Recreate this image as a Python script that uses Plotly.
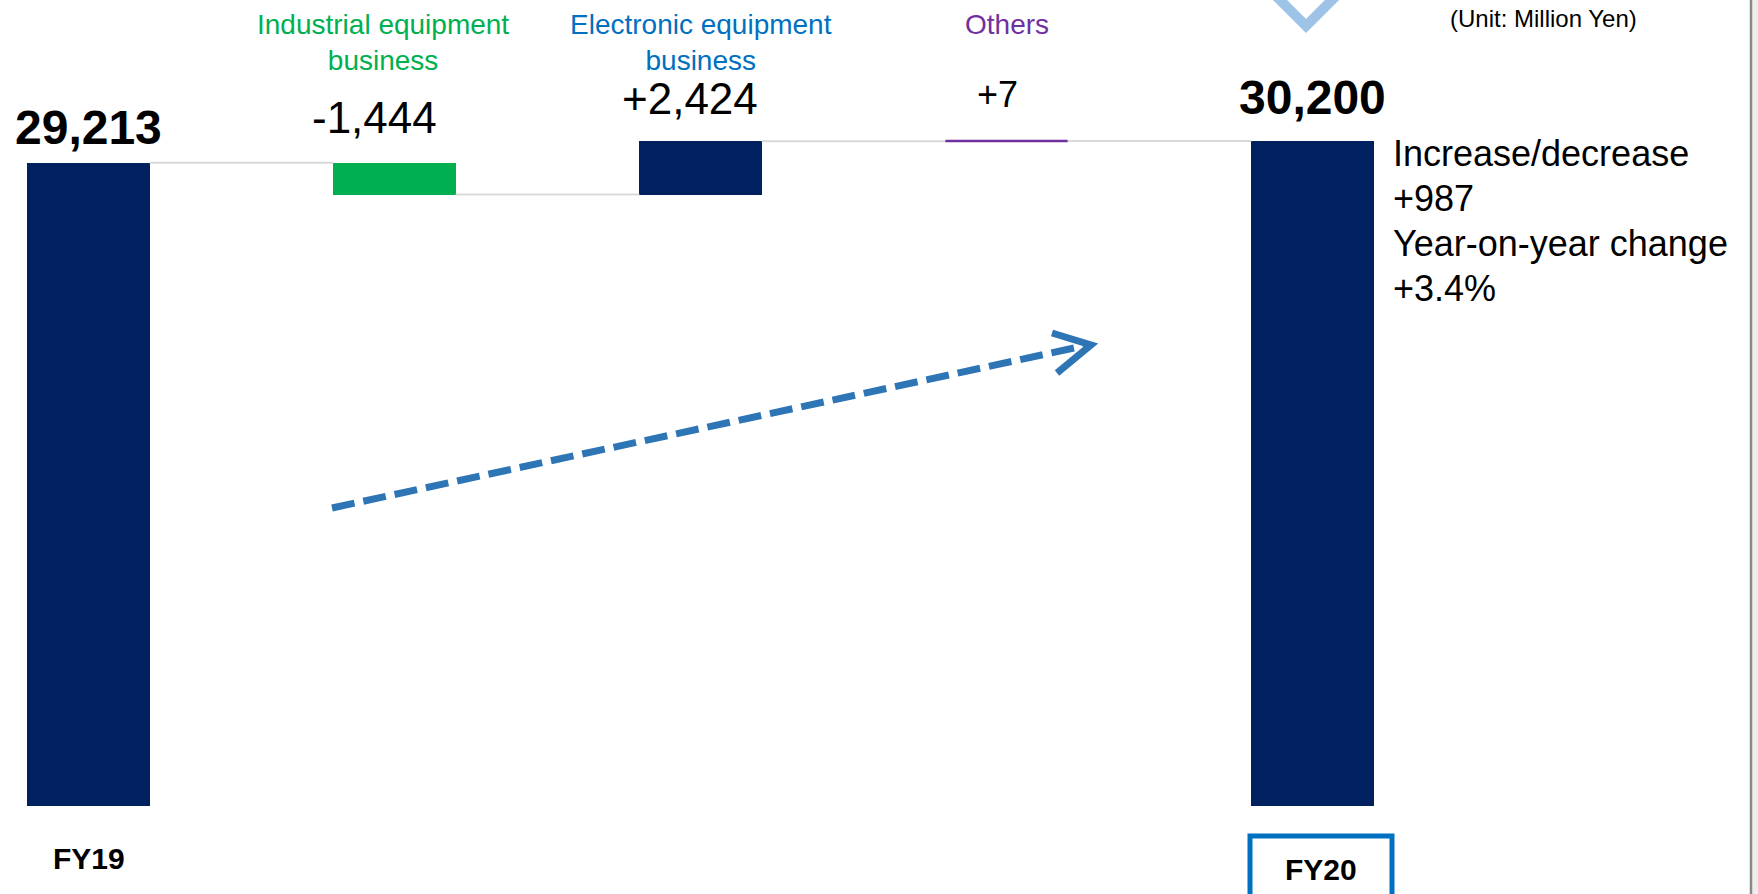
import plotly.graph_objects as go

# ---- data -------------------------------------------------------------
categories = ["FY19", "Industrial equipment<br>business",
              "Electronic equipment<br>business", "Others", "FY20"]
start_value = 29213          # FY19 total
segment_changes = [-1444, 2424, 7]   # industrial, electronic, others
end_value = 30200            # FY20 total
unit_note = "(Unit: Million Yen)"

# ---- styling ----------------------------------------------------------
W, H = 1758, 894
NAVY = "#002060"
GREEN = "#00B050"
BLUE = "#0070C0"
PURPLE = "#7030A0"
CONNECTOR = "#D9D9D9"
FONT = "Liberation Sans, Arial, sans-serif"

bar_colors = [NAVY, GREEN, NAVY, PURPLE, NAVY]
label_colors = ["black", GREEN, BLUE, PURPLE, "black"]
BAR_W = 0.4


def px_x(p):
    return p / W


def px_y(p):
    return 1 - p / H


# ---- waterfall geometry from the data ----------------------------------
xs = list(range(len(categories)))
bases, heights, levels = [0], [start_value], [start_value]
level = start_value
for d in segment_changes:
    bases.append(level)
    heights.append(d)
    level += d
    levels.append(level)
bases.append(0)
heights.append(end_value)
tops = [max(b, b + h) for b, h in zip(bases, heights)]

fig = go.Figure()

fig.add_trace(go.Bar(
    x=xs, y=heights, base=bases, width=BAR_W,
    marker=dict(color=bar_colors, line=dict(width=0)),
    hoverinfo="skip", showlegend=False,
))

# thin "Others" bar drawn as a coloured line at its top
i_oth = 3
fig.add_trace(go.Scatter(
    x=[i_oth - BAR_W / 2, i_oth + BAR_W / 2], y=[levels[i_oth]] * 2,
    mode="lines", line=dict(color=PURPLE, width=2.5),
    hoverinfo="skip", showlegend=False,
))

# connectors between consecutive bars
cx, cy = [], []
for i in range(len(categories) - 1):
    cx += [i + BAR_W / 2, i + 1 - BAR_W / 2, None]
    cy += [levels[i], levels[i], None]
fig.add_trace(go.Scatter(
    x=cx, y=cy, mode="lines", line=dict(color=CONNECTOR, width=2),
    hoverinfo="skip", showlegend=False, connectgaps=False,
))

annotations = []

# value labels above each bar
value_texts = [f"<b>{start_value:,}</b>"] + [f"{d:+,}" for d in segment_changes] \
    + [f"<b>{end_value:,}</b>"]
value_sizes = [48, 44, 44, 36, 48]
value_shift_y = [35, 45, 43, 47, 44]
value_shift_x = [0, -20, -11, -9, 0]
for i in xs:
    annotations.append(dict(
        x=i, y=tops[i], xref="x", yref="y", text=value_texts[i],
        showarrow=False, xanchor="center", yanchor="middle",
        xshift=value_shift_x[i], yshift=value_shift_y[i],
        font=dict(family=FONT, size=value_sizes[i], color="black"),
    ))

# segment names at the top
name_shift_x = [0, -12, 0, 0, 0]
for i in (1, 2, 3):
    annotations.append(dict(
        x=i, y=px_y(7), xref="x", yref="paper", text=categories[i],
        showarrow=False, xanchor="center", yanchor="top", align="center",
        xshift=name_shift_x[i],
        font=dict(family=FONT, size=28, color=label_colors[i]),
    ))

# year labels beneath the total bars
annotations.append(dict(
    x=0, y=px_y(858), xref="x", yref="paper", text=f"<b>{categories[0]}</b>",
    showarrow=False, xanchor="center", yanchor="middle",
    font=dict(family=FONT, size=30, color="black"),
))
annotations.append(dict(
    x=px_x(1321), y=px_y(869), xref="paper", yref="paper",
    text=f"<b>{categories[4]}</b>",
    showarrow=False, xanchor="center", yanchor="middle",
    font=dict(family=FONT, size=30, color="black"),
))

# summary of the change
diff = end_value - start_value
pct = (end_value / start_value - 1) * 100
summary = ["Increase/decrease", f"{diff:+,}", "Year-on-year change", f"{pct:+.1f}%"]
summary_y = [154, 198, 243, 288]
for txt, yy in zip(summary, summary_y):
    annotations.append(dict(
        x=px_x(1391), y=px_y(yy), xref="paper", yref="paper", text=txt,
        showarrow=False, xanchor="left", yanchor="middle",
        font=dict(family=FONT, size=36, color="black"),
    ))

annotations.append(dict(
    x=px_x(1543), y=px_y(19), xref="paper", yref="paper", text=unit_note,
    showarrow=False, xanchor="center", yanchor="middle",
    font=dict(family=FONT, size=24, color="black"),
))

shapes = []

# dashed trend arrow
ax0, ay0, ax1, ay1 = 332, 508, 1088, 345
shapes.append(dict(
    type="line", xref="paper", yref="paper",
    x0=px_x(ax0), y0=px_y(ay0), x1=px_x(ax1), y1=px_y(ay1),
    line=dict(color="#2E75B6", width=7, dash="23px,9px"),
))
shapes.append(dict(
    type="path", xref="paper", yref="paper",
    path=(f"M {px_x(1052)},{px_y(333)} L {px_x(1091)},{px_y(345)} "
          f"L {px_x(1057)},{px_y(373)}"),
    line=dict(color="#2E75B6", width=7),
))

# chevron marker above FY20
shapes.append(dict(
    type="path", xref="paper", yref="paper",
    path=(f"M {px_x(1274)},{px_y(-6)} L {px_x(1306)},{px_y(26)} "
          f"L {px_x(1338)},{px_y(-6)}"),
    line=dict(color="#9DC3E6", width=10),
))

# highlighted FY20 label box
shapes.append(dict(
    type="rect", xref="paper", yref="paper",
    x0=px_x(1250), x1=px_x(1392), y0=px_y(836), y1=px_y(910),
    line=dict(color=BLUE, width=5), fillcolor="rgba(0,0,0,0)",
))

# slide frame edge on the right
shapes.append(dict(
    type="rect", xref="paper", yref="paper",
    x0=px_x(1752), x1=px_x(1760), y0=0, y1=1,
    line=dict(width=0), fillcolor="#EEEEEE", layer="below",
))
shapes.append(dict(
    type="line", xref="paper", yref="paper",
    x0=px_x(1751), x1=px_x(1751), y0=0, y1=1,
    line=dict(color="#8A8A8A", width=2.5),
))

# axis ranges: value 0 sits at pixel row 806, value 30200 at row 141
ppu = (806 - 141) / end_value
y_lo = -(H - 806) / ppu
y_hi = 806 / ppu
x_lo = -88.5 / 306
x_hi = (W - 88.5) / 306

fig.update_layout(
    width=W, height=H,
    margin=dict(l=0, r=0, t=0, b=0),
    paper_bgcolor="white", plot_bgcolor="white",
    xaxis=dict(range=[x_lo, x_hi], visible=False, fixedrange=True),
    yaxis=dict(range=[y_lo, y_hi], visible=False, fixedrange=True),
    annotations=annotations, shapes=shapes,
    showlegend=False, bargap=0,
)

fig.write_html("out.html", config={"displayModeBar": False})
